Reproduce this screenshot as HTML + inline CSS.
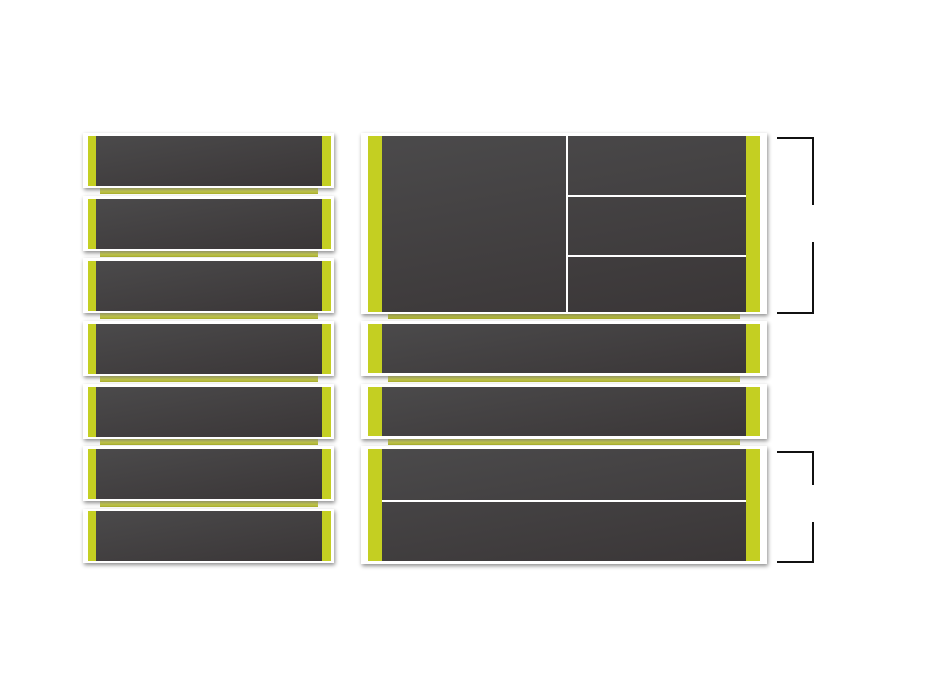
<!DOCTYPE html>
<html><head><style>
body{margin:0;width:944px;height:681px;background:#fff;position:relative;overflow:hidden}
.c{position:absolute;background:#fff;box-shadow:1px 2px 4px rgba(0,0,0,.45)}
.s{position:absolute;height:6px;background:linear-gradient(#eef19a,#d3d955 55%,#a9ae2c);}
.d{position:absolute;background:linear-gradient(170deg,#4b4a4b,#3a3637)}
.g{position:absolute;background:#c4cf22}
.w{position:absolute;background:#fff}
.k{position:absolute;background:#111}
</style></head><body>
<div class="s" style="left:100px;top:188px;width:218px"></div>
<div class="s" style="left:100px;top:251px;width:218px"></div>
<div class="s" style="left:100px;top:313px;width:218px"></div>
<div class="s" style="left:100px;top:376px;width:218px"></div>
<div class="s" style="left:100px;top:439px;width:218px"></div>
<div class="s" style="left:100px;top:501px;width:218px"></div>
<div class="s" style="left:388px;top:313px;width:352px"></div>
<div class="s" style="left:388px;top:376px;width:352px"></div>
<div class="s" style="left:388px;top:439px;width:352px"></div>

<div class="c" style="left:83px;top:133px;width:251px;height:55px"><div class="g" style="left:5px;top:3px;width:8px;height:50px"></div><div class="d" style="left:13px;top:3px;width:226px;height:50px"></div><div class="g" style="left:239px;top:3px;width:9px;height:50px"></div></div>
<div class="c" style="left:83px;top:196px;width:251px;height:55px"><div class="g" style="left:5px;top:3px;width:8px;height:50px"></div><div class="d" style="left:13px;top:3px;width:226px;height:50px"></div><div class="g" style="left:239px;top:3px;width:9px;height:50px"></div></div>
<div class="c" style="left:83px;top:258px;width:251px;height:55px"><div class="g" style="left:5px;top:3px;width:8px;height:50px"></div><div class="d" style="left:13px;top:3px;width:226px;height:50px"></div><div class="g" style="left:239px;top:3px;width:9px;height:50px"></div></div>
<div class="c" style="left:83px;top:321px;width:251px;height:55px"><div class="g" style="left:5px;top:3px;width:8px;height:50px"></div><div class="d" style="left:13px;top:3px;width:226px;height:50px"></div><div class="g" style="left:239px;top:3px;width:9px;height:50px"></div></div>
<div class="c" style="left:83px;top:384px;width:251px;height:55px"><div class="g" style="left:5px;top:3px;width:8px;height:50px"></div><div class="d" style="left:13px;top:3px;width:226px;height:50px"></div><div class="g" style="left:239px;top:3px;width:9px;height:50px"></div></div>
<div class="c" style="left:83px;top:446px;width:251px;height:55px"><div class="g" style="left:5px;top:3px;width:8px;height:50px"></div><div class="d" style="left:13px;top:3px;width:226px;height:50px"></div><div class="g" style="left:239px;top:3px;width:9px;height:50px"></div></div>
<div class="c" style="left:83px;top:509px;width:251px;height:54px"><div class="g" style="left:5px;top:2px;width:8px;height:50px"></div><div class="d" style="left:13px;top:2px;width:226px;height:50px"></div><div class="g" style="left:239px;top:2px;width:9px;height:50px"></div></div>

<div class="c" style="left:361px;top:133px;width:406px;height:181px">
<div class="g" style="left:7px;top:3px;width:14px;height:176px"></div>
<div class="d" style="left:21px;top:3px;width:364px;height:176px"></div>
<div class="g" style="left:385px;top:3px;width:14px;height:176px"></div>
<div class="w" style="left:205px;top:3px;width:2px;height:176px"></div>
<div class="w" style="left:207px;top:62px;width:178px;height:2px"></div>
<div class="w" style="left:207px;top:122px;width:178px;height:2px"></div>
</div>
<div class="c" style="left:361px;top:321px;width:406px;height:55px"><div class="g" style="left:7px;top:3px;width:14px;height:49px"></div><div class="d" style="left:21px;top:3px;width:364px;height:49px"></div><div class="g" style="left:385px;top:3px;width:14px;height:49px"></div></div>
<div class="c" style="left:361px;top:384px;width:406px;height:55px"><div class="g" style="left:7px;top:3px;width:14px;height:49px"></div><div class="d" style="left:21px;top:3px;width:364px;height:49px"></div><div class="g" style="left:385px;top:3px;width:14px;height:49px"></div></div>
<div class="c" style="left:361px;top:446px;width:406px;height:118px">
<div class="g" style="left:7px;top:3px;width:14px;height:112px"></div>
<div class="d" style="left:21px;top:3px;width:364px;height:112px"></div>
<div class="g" style="left:385px;top:3px;width:14px;height:112px"></div>
<div class="w" style="left:21px;top:54px;width:364px;height:2px"></div>
</div>

<div class="k" style="left:777px;top:137px;width:37px;height:2px"></div>
<div class="k" style="left:812px;top:137px;width:2px;height:68px"></div>
<div class="k" style="left:812px;top:242px;width:2px;height:71px"></div>
<div class="k" style="left:777px;top:312px;width:37px;height:2px"></div>
<div class="k" style="left:777px;top:451px;width:37px;height:2px"></div>
<div class="k" style="left:812px;top:451px;width:2px;height:34px"></div>
<div class="k" style="left:812px;top:522px;width:2px;height:40px"></div>
<div class="k" style="left:777px;top:561px;width:37px;height:2px"></div>
</body></html>
